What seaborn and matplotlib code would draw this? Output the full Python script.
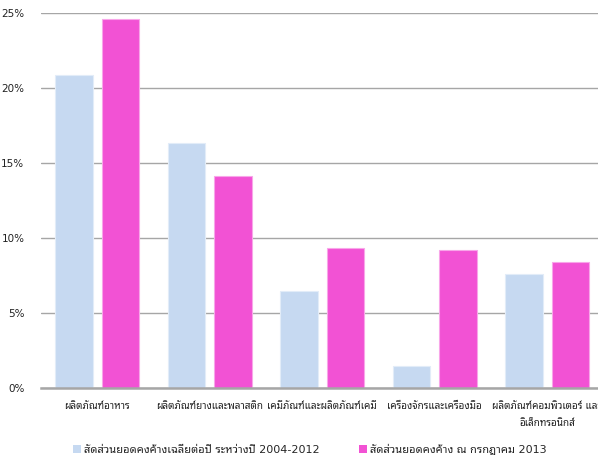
import matplotlib
matplotlib.use("Agg")
import matplotlib.pyplot as plt
from matplotlib.patches import Patch
from matplotlib.ticker import FuncFormatter, MultipleLocator
import pandas as pd
import seaborn as sns

# Share of outstanding loans by industry (%)
categories = [
    "ผลิตภัณฑ์อาหาร",
    "ผลิตภัณฑ์ยางและพลาสติก",
    "เคมีภัณฑ์และผลิตภัณฑ์เคมี",
    "เครื่องจักรและเครื่องมือ",
    "ผลิตภัณฑ์คอมพิวเตอร์ และ\nอิเล็กทรอนิกส์",
]
series_names = [
    "สัดส่วนยอดคงค้างเฉลี่ยต่อปี ระหว่างปี 2004-2012",
    "สัดส่วนยอดคงค้าง ณ กรกฎาคม 2013",
]
avg_2004_2012 = [20.9, 16.3, 6.5, 1.5, 7.6]
jul_2013 = [24.6, 14.1, 9.3, 9.2, 8.4]
colors = ["#C6D9F1", "#F252D4"]
edge_colors = ["#E2ECF8", "#F8A6E9"]

df = pd.DataFrame({
    "category": categories * 2,
    "series": [series_names[0]] * len(categories) + [series_names[1]] * len(categories),
    "value": avg_2004_2012 + jul_2013,
})

sns.set_theme(style="white")
plt.rcParams["font.family"] = ["DejaVu Sans", "Noto Sans Thai Looped"]

fig = plt.figure(figsize=(5.98, 4.61), dpi=100)
ax = fig.add_axes([41 / 598, 73 / 461, 562.5 / 598, 375 / 461])

sns.barplot(
    data=df, x="category", y="value", hue="series",
    order=categories, hue_order=series_names,
    palette=colors, width=0.83, gap=0.2, legend=False, ax=ax,
    saturation=1,
)
for patch_group, ec in zip(ax.containers, edge_colors):
    for p in patch_group:
        p.set_edgecolor(ec)
        p.set_linewidth(0.8)

ax.set_ylim(0, 25)
ax.set_xlim(-0.5, len(categories) - 0.5)
ax.yaxis.set_major_locator(MultipleLocator(5))
ax.yaxis.set_major_formatter(FuncFormatter(lambda v, _: f"{v:.0f}%"))
ax.set_axisbelow(True)
ax.grid(axis="y", color="#A6A6A6", linewidth=1.0)
ax.grid(axis="x", visible=False)
for s in ["top", "right", "left"]:
    ax.spines[s].set_visible(False)
ax.spines["bottom"].set_color("#A6A6A6")
ax.spines["bottom"].set_linewidth(1.8)
ax.spines["bottom"].set_zorder(3)

ax.set_xlabel("")
ax.set_ylabel("")
ax.tick_params(axis="y", length=0, pad=12, labelsize=7.5, labelcolor="#222222")
ax.tick_params(axis="x", length=0, pad=9, labelsize=7.2, labelcolor="#222222")
for lbl in ax.get_xticklabels():
    lbl.set_linespacing(1.9)

handles = [Patch(facecolor=c, edgecolor="none") for c in colors]
fig.legend(
    handles, series_names, loc="center left", bbox_to_anchor=(0.106, 0.025),
    ncol=2, frameon=False, fontsize=8, handlelength=0.7, handleheight=0.7,
    handletextpad=0.3, columnspacing=3.5,
)

fig.savefig("out.png", dpi=100)
